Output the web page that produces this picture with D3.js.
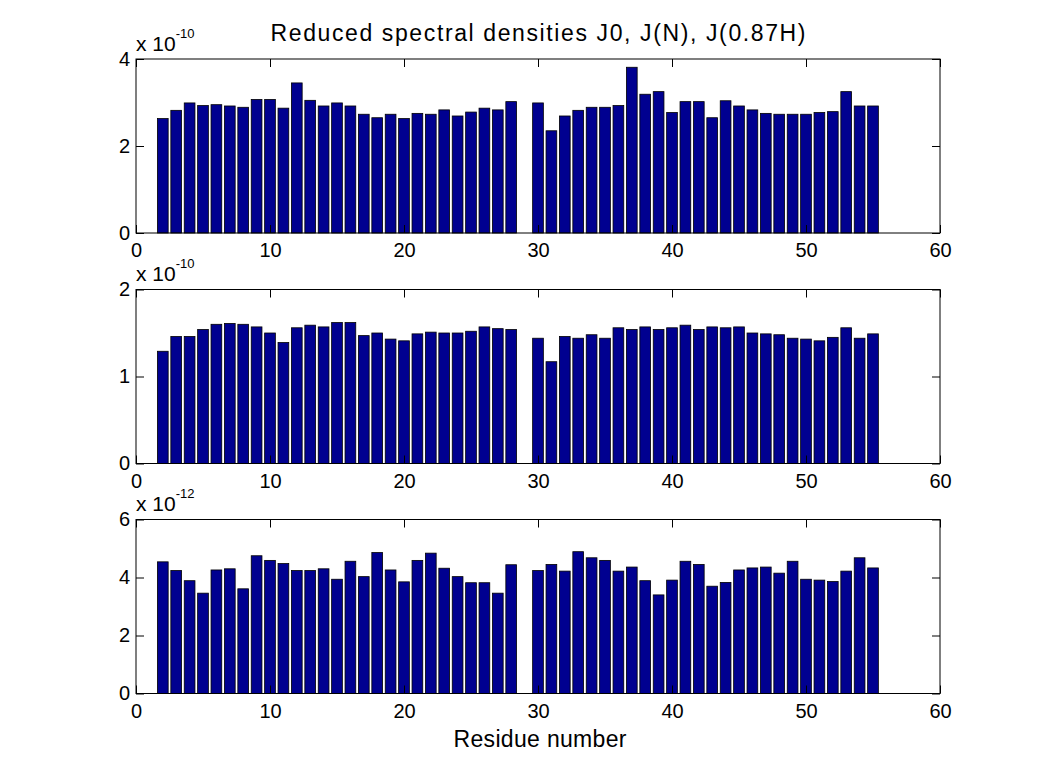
<!DOCTYPE html>
<html><head><meta charset="utf-8">
<script src="https://cdn.jsdelivr.net/npm/d3@7"></script>
<style>body{margin:0;background:#fff;} text{font-family:"Liberation Sans",Arial,Helvetica,sans-serif;}</style>
</head><body>
<svg id="c" width="1039" height="779"></svg>
<script>
const residues = [2,3,4,5,6,7,8,9,10,11,12,13,14,15,16,17,18,19,20,21,22,23,24,25,26,27,28,30,31,32,33,34,35,36,37,38,39,40,41,42,43,44,45,46,47,48,49,50,51,52,53,54,55];
const j0 = [2.63,2.82,2.99,2.93,2.95,2.92,2.89,3.07,3.07,2.87,3.45,3.05,2.92,2.99,2.92,2.73,2.65,2.73,2.63,2.75,2.73,2.83,2.69,2.78,2.87,2.83,3.02,
            2.99,2.35,2.69,2.82,2.89,2.89,2.93,3.81,3.19,3.25,2.77,3.02,3.02,2.65,3.04,2.92,2.83,2.75,2.73,2.73,2.73,2.77,2.79,3.25,2.92,2.92];
const jN = [1.29,1.46,1.46,1.54,1.60,1.61,1.60,1.57,1.50,1.39,1.56,1.59,1.57,1.62,1.62,1.47,1.50,1.43,1.41,1.49,1.51,1.50,1.50,1.52,1.57,1.55,1.54,
            1.44,1.17,1.46,1.44,1.48,1.44,1.56,1.54,1.57,1.54,1.56,1.59,1.54,1.57,1.56,1.57,1.50,1.49,1.48,1.44,1.43,1.41,1.45,1.56,1.44,1.49];
const jH = [4.54,4.24,3.89,3.46,4.26,4.30,3.61,4.75,4.59,4.48,4.24,4.24,4.30,3.94,4.56,4.03,4.86,4.26,3.85,4.59,4.84,4.32,4.03,3.82,3.82,3.46,4.44,
            4.24,4.45,4.22,4.89,4.68,4.59,4.22,4.36,3.89,3.40,3.91,4.56,4.45,3.70,3.83,4.26,4.33,4.36,4.15,4.56,3.94,3.91,3.86,4.22,4.68,4.33];
const xTicks = [0,10,20,30,40,50,60];
const panels = [
  {values:j0, yMax:4, yTicks:[0,2,4], exp:"-10"},
  {values:jN, yMax:2, yTicks:[0,1,2], exp:"-10"},
  {values:jH, yMax:6, yTicks:[0,2,4,6], exp:"-12"}
];
const titleText = "Reduced spectral densities J0, J(N), J(0.87H)";
const xLabel = "Residue number";

const svg = d3.select("#c");
const L = 136, R = 940;
const tops = [59, 289.5, 519.5], H = 174;
const x = d3.scaleLinear().domain([0,60]).range([L,R]);
const barW = 0.8;
const tickLen = 8;
const fs = 20;

svg.append("text").attr("x",(L+R)/2).attr("y",41).attr("text-anchor","middle")
  .attr("font-size",23).attr("textLength",535).attr("lengthAdjust","spacing").text(titleText);

panels.forEach((p,i)=>{
  const top = tops[i], bot = top+H;
  const y = d3.scaleLinear().domain([0,p.yMax]).range([bot,top]);
  const g = svg.append("g");
  g.selectAll("rect.bar").data(residues.map((r,k)=>({r, v:p.values[k]}))).enter()
    .append("rect").attr("class","bar")
    .attr("x",d=>x(d.r-barW/2)).attr("width",x(barW)-x(0))
    .attr("y",d=>y(d.v)).attr("height",d=>y(0)-y(d.v))
    .attr("fill","#000090").attr("stroke","#000").attr("stroke-width",0.8);
  g.append("rect").attr("x",L).attr("y",top).attr("width",R-L).attr("height",H)
    .attr("fill","none").attr("stroke","#000").attr("stroke-width",1);
  const xb = d3.axisBottom(x).tickValues(xTicks).tickSizeInner(-tickLen).tickSizeOuter(0).tickPadding(10).tickFormat(d3.format("d"));
  const xa = g.append("g").attr("transform",`translate(0,${bot})`).call(xb);
  const xt = d3.axisTop(x).tickValues(xTicks).tickSizeInner(-tickLen).tickSizeOuter(0).tickFormat("");
  const xa2 = g.append("g").attr("transform",`translate(0,${top})`).call(xt);
  const yl = d3.axisLeft(y).tickValues(p.yTicks).tickSizeInner(-tickLen).tickSizeOuter(0).tickPadding(6).tickFormat(d3.format("d"));
  const ya = g.append("g").attr("transform",`translate(${L},0)`).call(yl);
  const yr = d3.axisRight(y).tickValues(p.yTicks).tickSizeInner(-tickLen).tickSizeOuter(0).tickFormat("");
  const ya2 = g.append("g").attr("transform",`translate(${R},0)`).call(yr);
  [xa,xa2,ya,ya2].forEach(a=>{
    a.select(".domain").remove();
    a.selectAll("line").attr("stroke","#000");
    a.selectAll("text").attr("font-size",fs).attr("fill","#000").attr("font-family","Liberation Sans, Arial, sans-serif");
  });
  const t = g.append("text").attr("x",L).attr("y",top-8.5).attr("font-size",21);
  t.append("tspan").text("x 10");
  t.append("tspan").attr("dy",-13).attr("font-size",13).text(p.exp);
});

svg.append("text").attr("x",540).attr("y",746.5).attr("text-anchor","middle")
  .attr("font-size",23).attr("textLength",173).attr("lengthAdjust","spacing").text(xLabel);
</script>
</body></html>
